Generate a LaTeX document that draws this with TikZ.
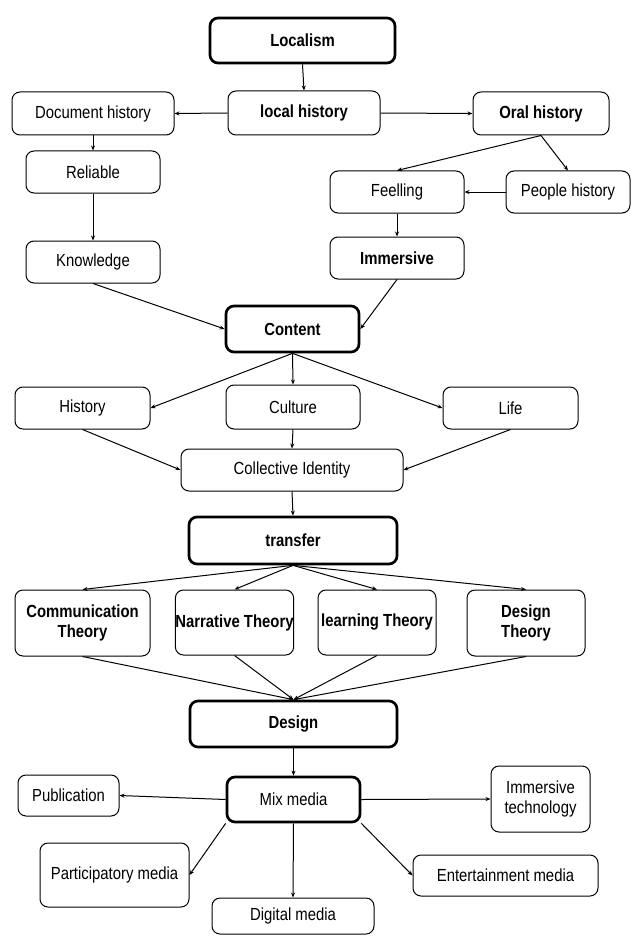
\documentclass[tikz,border=0pt]{standalone}
\usepackage{fontspec}
\setmainfont{Liberation Sans}[FakeStretch=0.85]
\usetikzlibrary{arrows.meta}
\begin{document}
\begin{tikzpicture}[x=1pt,y=-1pt,
  box/.style={draw,line width=1pt,rounded corners=8pt,align=center,inner sep=0pt,font=\fontsize{17.5}{20}\selectfont},
  bbox/.style={box,font=\fontsize{17.5}{20}\selectfont\bfseries},
  tbox/.style={box,line width=2.7pt,font=\fontsize{17.5}{20}\selectfont\bfseries},
  tnbox/.style={box,line width=2.7pt},
  arr/.style={-{Stealth[length=5pt,width=4pt]},line width=1pt}]
\useasboundingbox (0,0) rectangle (632,936);
\newcommand{\bx}[7]{\node[#1,minimum width=#5-#4 pt,minimum height=#7-#6 pt] (#2) at ({(#4+#5)/2},{(#6+#7)/2}) {#3};}
\bx{tbox}{loc}{Localism}{210}{395}{18}{63}
\bx{bbox}{lh}{local history}{228}{380}{91}{135}
\bx{box}{doc}{Document history}{12}{174}{92}{135}
\bx{bbox}{oral}{Oral history}{473}{609}{92}{135}
\bx{box}{rel}{Reliable}{26}{160}{151}{193}
\bx{box}{feel}{Feelling}{330}{464}{171}{213}
\bx{box}{people}{People history}{506}{630}{171}{213}
\bx{box}{know}{Knowledge}{26}{160}{241}{283}
\bx{bbox}{imm}{Immersive}{330}{464}{237}{279}
\bx{tbox}{content}{Content}{226}{359}{306}{352}
\bx{box}{hist}{History}{15}{150}{387}{429}
\bx{box}{cult}{Culture}{226}{360}{385}{429}
\bx{box}{life}{Life}{443}{578}{387}{429}
\bx{box}{ci}{Collective Identity}{181}{403}{449}{491}
\bx{tbox}{transfer}{transfer}{189}{397}{517}{564}
\bx{bbox}{comm}{Communication\\Theory}{15}{150}{590}{656}
\bx{bbox}{narr}{Narrative Theory}{176}{293}{590}{655}
\bx{bbox}{learn}{learning Theory}{318}{436}{590}{655}
\bx{bbox}{dth}{Design\\Theory}{467}{585}{590}{656}
\bx{tbox}{design}{Design}{190}{397}{701}{747}
\bx{tnbox}{mix}{Mix media}{227}{360}{777}{822}
\bx{box}{pub}{Publication}{18}{119}{775}{816}
\bx{box}{imt}{Immersive\\technology}{491}{590}{766}{832}
\bx{box}{part}{Participatory media}{40}{189}{843}{907}
\bx{box}{ent}{Entertainment media}{413}{598}{855}{896}
\bx{box}{dig}{Digital media}{212}{374}{898}{934}
\draw[arr] (loc.south) -- (lh.north);
\draw[arr] (lh.west) -- (doc.east);
\draw[arr] (lh.east) -- (oral.west);
\draw[arr] (doc.south) -- (rel.north);
\draw[arr] (rel.south) -- (know.north);
\draw[arr] (oral.south) -- (feel.north);
\draw[arr] (oral.south) -- (people.north);
\draw[arr] (people.west) -- (feel.east);
\draw[arr] (feel.south) -- (imm.north);
\draw[arr] (know.south) -- (content.west);
\draw[arr] (imm.south) -- (content.east);
\draw[arr] (content.south) -- (hist.east);
\draw[arr] (content.south) -- (cult.north);
\draw[arr] (content.south) -- (life.west);
\draw[arr] (hist.south) -- (ci.west);
\draw[arr] (cult.south) -- (ci.north);
\draw[arr] (life.south) -- (ci.east);
\draw[arr] (ci.south) -- (transfer.north);
\foreach \t in {comm,narr,learn,dth}{
  \draw[arr] (transfer.south) -- (\t.north);
  \draw[arr] (\t.south) -- (design.north);
}
\draw[arr] (design.south) -- (mix.north);
\draw[arr] (mix.west) -- (pub.east);
\draw[arr] (mix.east) -- (imt.west);
\draw[arr] (mix.south west) -- (part.east);
\draw[arr] (mix.south) -- (dig.north);
\draw[arr] (mix.south east) -- (ent.west);
\end{tikzpicture}
\end{document}
